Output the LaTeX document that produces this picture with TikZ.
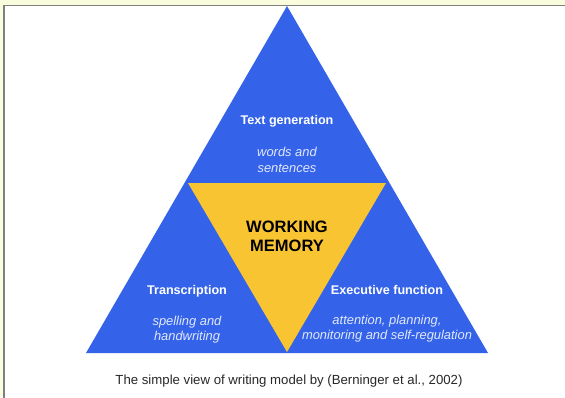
\documentclass[tikz,border=0pt]{standalone}
\usepackage{fontspec}
\setmainfont{Liberation Sans}
\definecolor{tblue}{RGB}{52,99,234}
\definecolor{tyellow}{RGB}{249,196,50}
\definecolor{bgyel}{RGB}{250,252,222}
\definecolor{framegray}{RGB}{128,128,128}
\definecolor{captxt}{RGB}{40,40,40}
\definecolor{soft}{RGB}{225,232,252}
\begin{document}
\begin{tikzpicture}[x=1pt,y=-1pt,
  titletext/.style={text=white,font=\bfseries\fontsize{12.6}{15}\selectfont,inner sep=0pt},
  subtext/.style={text=soft,font=\itshape\fontsize{12.9}{15.5}\selectfont,align=center,inner sep=0pt},
  wmtext/.style={text=black,font=\bfseries\fontsize{16.5}{19.5}\selectfont,align=center,inner sep=0pt},
  captext/.style={text=captxt,font=\fontsize{13.2}{15}\selectfont,inner sep=0pt}]
\useasboundingbox (0,0) rectangle (565,397);
\fill[bgyel] (0,0) rectangle (565,397);
\fill[white] (4.2,5.5) rectangle (566,398);
\draw[framegray,line width=1.8pt] (4.2,400) -- (4.2,5.5) -- (568,5.5);
% outer triangle
\coordinate (A) at (287,6);
\coordinate (L) at (86,353);
\coordinate (R) at (488,353);
\fill[tblue] (A) -- (L) -- (R) -- cycle;
% inner triangle
\coordinate (YL) at (188,183);
\coordinate (YR) at (386,183);
\coordinate (YB) at (287,352);
\fill[tyellow] (YL) -- (YR) -- (YB) -- cycle;
% texts
\node[titletext] (tg) at (287,121.5) {Text generation};
\node[subtext] (tgs) at (287,160) {words and\\sentences};
\node[wmtext] (wm) at (287,236.5) {WORKING\\MEMORY};
\node[titletext] (tr) at (187,291) {Transcription};
\node[subtext] (trs) at (187,329.5) {spelling and\\handwriting};
\node[titletext] (ef) at (387,289.5) {Executive function};
\node[subtext] (efs) at (387,328.5) {attention, planning,\\monitoring and self-regulation};
\node[captext] (cp) at (289,381) {The simple view of writing model by (Berninger et al., 2002)};
\end{tikzpicture}
\end{document}
